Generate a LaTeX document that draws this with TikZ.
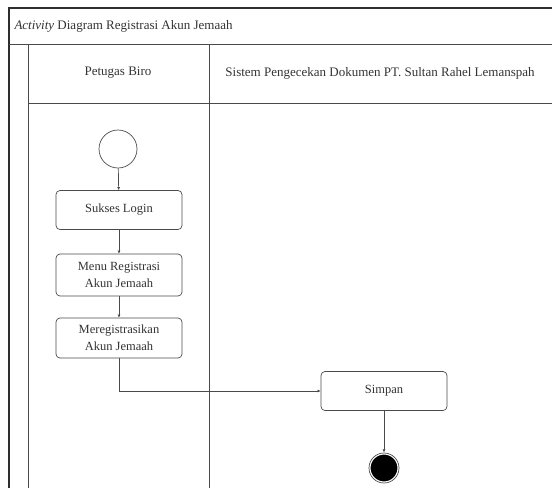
\documentclass[tikz,border=0pt]{standalone}
\usepackage{fontspec}
\setmainfont{Liberation Serif}
\usetikzlibrary{calc,positioning,arrows.meta}
\definecolor{ADLine}{HTML}{4A4A4A}
\definecolor{ADFrame}{HTML}{2E2E2E}
\definecolor{ADText}{HTML}{333333}
\tikzset{
  laneLine/.style={draw=ADLine, line width=0.9pt},
  frameLine/.style={draw=ADFrame, line width=1.4pt},
  labelText/.style={font=\fontsize{13pt}{16pt}\selectfont, text=ADText},
  actionNode/.style={rectangle, rounded corners=4pt, draw=ADLine, line width=0.7pt, minimum width=126pt, minimum height=39pt, align=center, font=\fontsize{12.5pt}{17pt}\selectfont, text=ADText, inner sep=1pt},
  startNode/.style={circle, draw=ADLine, line width=0.7pt, minimum size=38pt, inner sep=0pt},
  endNode/.style={circle, fill=black, draw=white, line width=1.2pt, double=ADLine, double distance=0.7pt, minimum size=30pt, inner sep=0pt},
  flow/.style={-{Latex[length=3pt,width=3pt]}, draw=ADLine, line width=0.7pt}
}

\begin{document}
\begin{tikzpicture}[x=1pt, y=-1pt]
  \useasboundingbox (0,0) rectangle (552,488);
  % Bingkai dan partisi
  \draw[frameLine] (9,488) -- (9,8) -- (552,8);
  \draw[laneLine] (9,44) -- (552,44);
  \draw[laneLine] (28,44) -- (28,488);
  \draw[laneLine] (209,44) -- (209,488);
  \draw[laneLine] (28,103) -- (552,103);

  % Judul dan kepala partisi
  \node[anchor=west, labelText] (judul) at (11,26) {\textit{Activity} Diagram Registrasi Akun Jemaah};
  \node[labelText] (lane1) at (118,73) {Petugas Biro};
  \node[labelText] (lane2) at (380,73) {Sistem Pengecekan Dokumen PT. Sultan Rahel Lemanspah};

  % Aktivitas
  \node[startNode] (mulai) at (118,149) {};
  \node[actionNode] (login) at (119,210) {Sukses Login};
  \node[actionNode, minimum height=42pt] (menu) at (119,275) {Menu Registrasi\\Akun Jemaah};
  \node[actionNode, minimum height=40pt] (daftar) at (119,338) {Meregistrasikan\\Akun Jemaah};
  \node[actionNode] (simpan) at (384,391) {Simpan};
  \node[endNode] (selesai) at (384,468) {};

  % Alur
  \draw[flow] (mulai) -- (login);
  \draw[flow] (login) -- (menu);
  \draw[flow] (menu) -- (daftar);
  \draw[flow] (daftar.south) |- (simpan.west);
  \draw[flow] (simpan) -- (selesai);
\end{tikzpicture}
\end{document}
